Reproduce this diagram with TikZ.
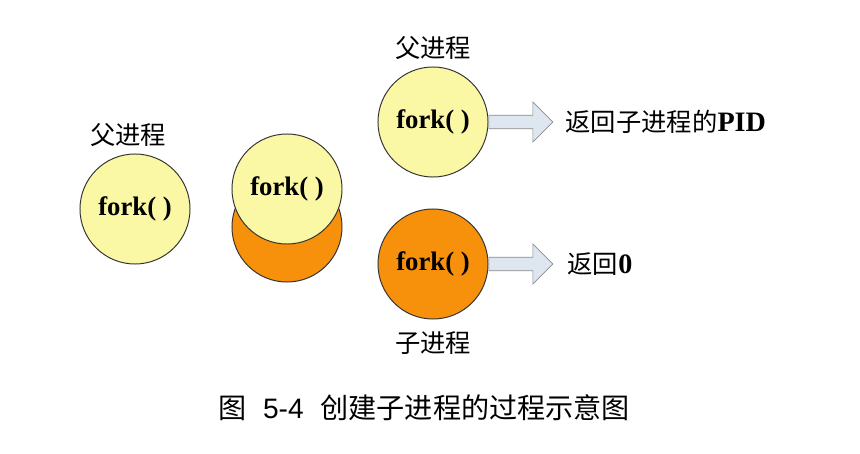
\documentclass[tikz,border=0pt]{standalone}
\usepackage{fontspec}
\setmainfont{Liberation Serif}
\setsansfont{Liberation Sans}
\newfontfamily\cjk{Noto Sans CJK SC}
\usetikzlibrary{shapes.arrows,positioning}
\definecolor{procyellow}{RGB}{250,247,165}
\definecolor{procorange}{RGB}{247,145,12}
\definecolor{arrowfill}{RGB}{222,230,240}
\tikzset{
  proc/.style={circle, draw=black!80, line width=0.7pt, minimum size=2.75cm, inner sep=0pt,
    font=\fontsize{19}{22}\selectfont\bfseries},
  parent/.style={proc, fill=procyellow},
  child/.style={proc, fill=procorange},
  retarrow/.style={single arrow, draw=black!45, fill=arrowfill, line width=0.5pt,
    minimum height=1.6cm, inner sep=4.6pt, single arrow head extend=0.33cm, anchor=tail},
  tag/.style={font=\fontsize{18}{22}\selectfont\cjk},
}
\begin{document}
\begin{tikzpicture}[x=0.025cm, y=-0.025cm]
    \useasboundingbox (0,0) rectangle (860,453);

    % before fork
    \node[parent] (p0) at (135,209) {fork( )};
    \node[tag] (p0tag) at (128,135) {父进程};

    % during fork
    \node[child] (c1) at (287,227) {};
    \node[parent] (p1) at (287,189) {fork( )};

    % after fork
    \node[parent] (p2) at (433,122) {fork( )};
    \node[tag] (p2tag) at (433,48) {父进程};
    \node[child] (c2) at (433,264) {fork( )};
    \node[tag] (c2tag) at (433,343) {子进程};

    \node[retarrow] (a1) at (p2.east) {};
    \node[tag, right=0.3cm of a1, inner sep=0pt] (r1) {返回子进程的{\rmfamily\bfseries\fontsize{20}{22}\selectfont PID}};
    \node[retarrow] (a2) at (c2.east) {};
    \node[tag, right=0.35cm of a2, inner sep=0pt] (r2) {返回{\rmfamily\bfseries\fontsize{20}{22}\selectfont 0}};

    \node[font=\fontsize{20}{24}\selectfont\cjk] (cap) at (424,408) {图\hspace{0.6em}{\sffamily 5-4}\hspace{0.6em}创建子进程的过程示意图};
\end{tikzpicture}
\end{document}
